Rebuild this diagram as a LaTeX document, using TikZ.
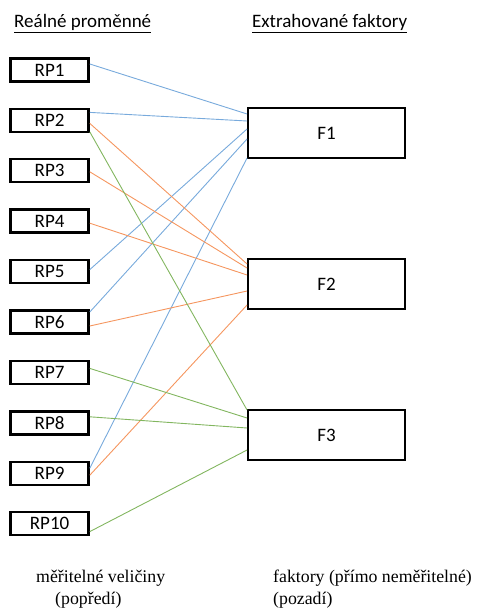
\documentclass[tikz,border=0pt]{standalone}
\usepackage{fontspec}
\setmainfont{Carlito}
\newfontfamily\patkove{Liberation Serif}
\usetikzlibrary{calc}
\definecolor{modra}{RGB}{120,170,220}
\definecolor{oranzova}{RGB}{245,150,95}
\definecolor{zelena}{RGB}{130,182,95}
\tikzset{>=stealth}

\begin{document}
\begin{tikzpicture}[x=1pt,y=-1pt,
  rpbox/.style={draw, line width=2.4pt, minimum width=78pt, minimum height=23pt, inner sep=0pt, font=\fontsize{19}{21}\selectfont},
  fbox/.style={draw, line width=2.4pt, minimum width=156.5pt, minimum height=49.5pt, inner sep=0pt, font=\fontsize{19}{21}\selectfont},
  spoj/.style={line width=0.9pt},
  nadpis/.style={anchor=base west, inner sep=0pt, font=\fontsize{19}{21}\selectfont},
  popis/.style={anchor=base west, inner sep=0pt, font=\patkove\fontsize{17.8}{20}\selectfont}]
\useasboundingbox (0,0) rectangle (476,609);
\node[nadpis] (nadpisRP) at (14,28) {\underline{Reálné proměnné}};
\node[nadpis] (nadpisF) at (252,28) {\underline{Extrahované faktory}};
\foreach \i in {1,...,10}
\node[rpbox] (RP\i) at (49.6,{70+50.4*(\i-1)}) {RP\i};
\node[fbox] (F1) at (326.5,133) {F1};
\node[fbox] (F2) at (326.5,284) {F2};
\node[fbox] (F3) at (326.5,435) {F3};
\foreach \a/\da/\b/\db/\c in {1/-6/1/-19/modra, 2/-8/1/-12/modra, 5/-2/1/-4/modra, 6/-10/1/6/modra, 9/-5/1/25/modra,
  2/3/2/-20/oranzova, 3/1/2/-16/oranzova, 4/2/2/-9/oranzova, 6/4/2/7/oranzova, 9/2/2/21/oranzova,
  2/11.5/3/-25/zelena, 7/-4/3/-17/zelena, 8/-6/3/-7/zelena, 10/8/3/15/zelena}
\draw[spoj, \c] ($(RP\a.east)+(0,\da)$) -- ($(F\b.west)+(0,\db)$);
\node[popis] (mer1) at (36,582) {měřitelné veličiny};
\node[popis] (mer2) at (55,604) {(popředí)};
\node[popis] (fak1) at (273,582) {faktory (přímo neměřitelné)};
\node[popis] (fak2) at (273,604) {(pozadí)};
\end{tikzpicture}
\end{document}
